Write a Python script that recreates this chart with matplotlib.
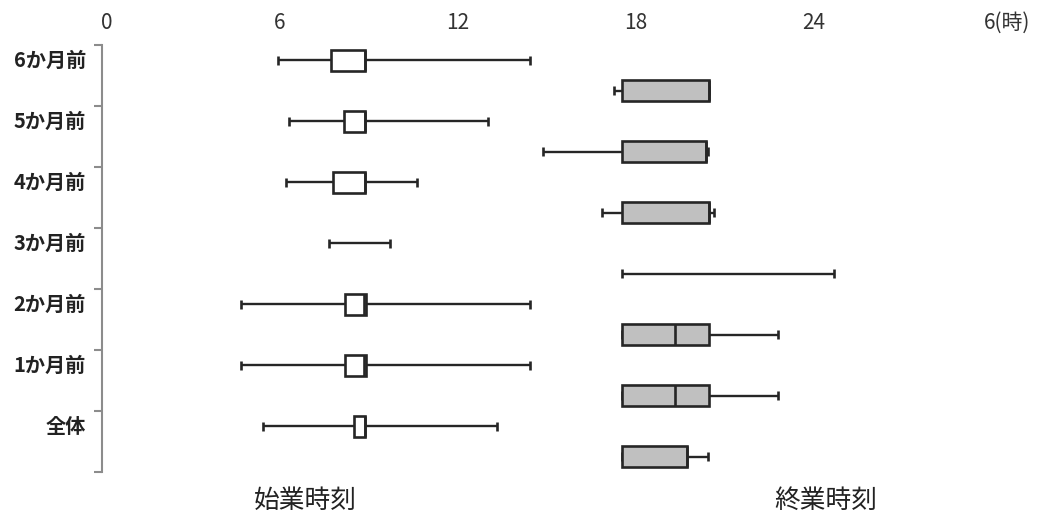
import numpy as np
import matplotlib
matplotlib.use('Agg')
import matplotlib.pyplot as plt
from matplotlib.transforms import blended_transform_factory, ScaledTranslation

plt.rcParams['font.family'] = ['Noto Sans CJK JP', 'DejaVu Sans']

# categories, top to bottom
categories = ['6か月前', '5か月前', '4か月前', '3か月前', '2か月前', '1か月前', '全体']

# start of work (hours): min, Q1, median, Q3, max  (nan = no box)
start_min = [5.95, 6.32, 6.22, 7.67, 4.70, 4.70, 5.44]
start_q1  = [7.73, 8.17, 7.80, np.nan, 8.21, 8.21, 8.51]
start_med = [8.88, 8.88, 8.88, np.nan, 8.83, 8.83, 8.88]
start_q3  = [8.88, 8.88, 8.88, np.nan, 8.91, 8.91, 8.88]
start_max = [14.44, 13.03, 10.63, 9.72, 14.44, 14.44, 13.33]

# end of work (hours)
end_min = [17.28, 14.88, 16.87, 17.55, 17.55, 17.55, 17.55]
end_q1  = [17.55, 17.55, 17.55, np.nan, 17.55, 17.55, 17.55]
end_med = [20.48, 20.38, 20.48, np.nan, 19.34, 19.34, 19.74]
end_q3  = [20.48, 20.38, 20.48, np.nan, 20.48, 20.48, 19.74]
end_max = [20.48, 20.45, 20.66, 24.70, 22.81, 22.81, 20.45]

tick_hours = [0, 6, 12, 18, 24, 30]
tick_labels = ['0', '6', '12', '18', '24', '6(時)']
group_titles = ['始業時刻', '終業時刻']

line_c = '#262626'
box_h = 0.33
cap_h = 0.15
off = 0.246

fig = plt.figure(figsize=(10.41, 5.17), dpi=100)
ax = fig.add_axes([101.7 / 1041, 1 - 472 / 517, 934 / 1041, 427 / 517])


def draw_row(y, mn, q1, med, q3, mx, fill):
    ax.hlines(y, mn, mx, color=line_c, lw=1.7, zorder=1)
    ax.vlines([mn, mx], y - cap_h / 2, y + cap_h / 2, color=line_c, lw=1.9, zorder=1)
    if not np.isnan(q1):
        ax.barh(y, q3 - q1, left=q1, height=box_h, color=fill,
                edgecolor=line_c, linewidth=1.9, zorder=2)
        ax.vlines(med, y - box_h / 2, y + box_h / 2, color=line_c, lw=1.9, zorder=3)


for i in range(len(categories)):
    draw_row(i - off, start_min[i], start_q1[i], start_med[i], start_q3[i],
             start_max[i], 'white')
    draw_row(i + off, end_min[i], end_q1[i], end_med[i], end_q3[i],
             end_max[i], '#c0c0c0')

ax.set_xlim(0, 31.5)
ax.set_ylim(len(categories) - 0.5, -0.5)

# top axis labels
ax.xaxis.tick_top()
ax.set_xticks(tick_hours)
ax.set_xticklabels(tick_labels, fontsize=15, color='#333333')
ax.tick_params(axis='x', length=0, pad=8)
first = ax.get_xticklabels()[0]
first.set_transform(first.get_transform() + ScaledTranslation(0.05, 0, fig.dpi_scale_trans))
last = ax.get_xticklabels()[-1]
last.set_horizontalalignment('left')
last.set_transform(last.get_transform() + ScaledTranslation(-0.07, 0, fig.dpi_scale_trans))

# left bracket axis
ax.set_yticks(np.arange(-0.5, len(categories) + 0.5, 1))
ax.set_yticklabels([])
ax.tick_params(axis='y', direction='out', length=6, width=1.5, color='#8c8c8c')
for s in ['top', 'right', 'bottom']:
    ax.spines[s].set_visible(False)
ax.spines['left'].set_color('#8c8c8c')
ax.spines['left'].set_linewidth(1.5)

trans = blended_transform_factory(ax.transAxes, ax.transData)
for i, lab in enumerate(categories):
    ax.text(-0.017, i - off, lab, transform=trans, ha='right', va='center',
            fontsize=14.5, fontweight='bold', color='#222222')

fig.text(305 / 1041, 1 - 501 / 517, group_titles[0], ha='center', va='center',
         fontsize=18.5, color='#222222')
fig.text(826 / 1041, 1 - 501 / 517, group_titles[1], ha='center', va='center',
         fontsize=18.5, color='#222222')

fig.savefig('out.png', dpi=100)
